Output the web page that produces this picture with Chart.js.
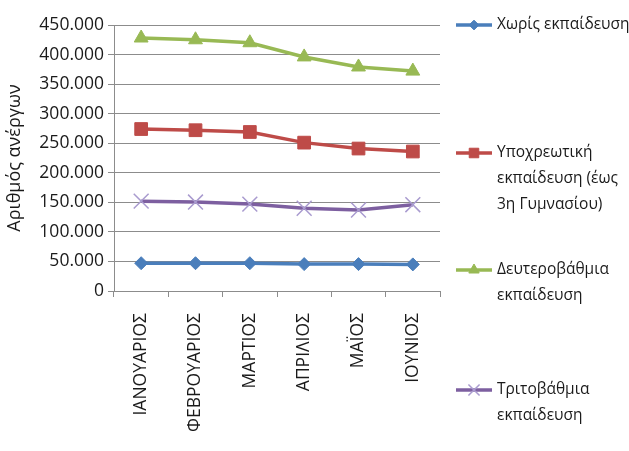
<!DOCTYPE html>
<html>
<head>
<meta charset="utf-8">
<script src="https://cdn.jsdelivr.net/npm/chart.js@4.4.0/dist/chart.umd.min.js"></script>
<style>
  html, body { margin: 0; padding: 0; background: #fff; }
  #wrap { width: 629px; height: 451px; }
</style>
</head>
<body>
<div id="wrap"><canvas id="chart"></canvas></div>
<script>
const months = ["ΙΑΝΟΥΑΡΙΟΣ", "ΦΕΒΡΟΥΑΡΙΟΣ", "ΜΑΡΤΙΟΣ", "ΑΠΡΙΛΙΟΣ", "ΜΑΪΟΣ", "ΙΟΥΝΙΟΣ"];

const noEducation = [47000, 47000, 47000, 45500, 45500, 45000];
const compulsory = [274000, 272000, 269000, 251000, 241000, 236000];
const secondary = [428000, 425000, 420000, 396000, 379000, 372000];
const tertiary = [152000, 150500, 147000, 140000, 137000, 146000];

const seriesNames = [
  ["Χωρίς εκπαίδευση"],
  ["Υποχρεωτική", "εκπαίδευση (έως", "3η Γυμνασίου)"],
  ["Δευτεροβάθμια", "εκπαίδευση"],
  ["Τριτοβάθμια", "εκπαίδευση"]
];

const yTicks = [0, 50000, 100000, 150000, 200000, 250000, 300000, 350000, 400000, 450000];

const fontFamily = "'Open Sans', 'Noto Sans', sans-serif";

function formatThousands(v) {
  return v === 0 ? "0" : String(v).replace(/\B(?=(\d{3})+(?!\d))/g, ".");
}

// legend drawn by hand, Excel spreads the entries down the right side
const sideLegend = {
  id: "sideLegend",
  afterDraw(chart) {
    const ctx = chart.ctx;
    const tops = [25, 153, 270, 390];
    ctx.save();
    ctx.font = "15.5px " + fontFamily;
    ctx.textBaseline = "middle";
    chart.data.datasets.forEach((ds, i) => {
      const y = tops[i];
      ctx.strokeStyle = ds.borderColor;
      ctx.lineWidth = ds.borderWidth;
      ctx.beginPath();
      ctx.moveTo(456, y);
      ctx.lineTo(492, y);
      ctx.stroke();
      ctx.fillStyle = ds.pointBackgroundColor;
      ctx.strokeStyle = ds.pointBorderColor;
      ctx.lineWidth = ds.pointBorderWidth;
      Chart.helpers.drawPoint(ctx, {
        pointStyle: ds.pointStyle,
        radius: ds.pointRadius * 0.75,
        borderWidth: ds.pointBorderWidth
      }, 474, y);
      ctx.fillStyle = "#1a1a1a";
      seriesNames[i].forEach((line, j) => {
        ctx.fillText(line, 497, y + j * 26);
      });
    });
    ctx.restore();
  }
};

new Chart(document.getElementById("chart"), {
  type: "line",
  data: {
    labels: months,
    datasets: [
      {
        data: noEducation,
        borderColor: "#4a7ebb",
        borderWidth: 3.5,
        pointStyle: "rectRot",
        pointRadius: 6.5,
        pointBackgroundColor: "#4a7ebb",
        pointBorderColor: "#4a7ebb",
        pointBorderWidth: 1,
        tension: 0
      },
      {
        data: compulsory,
        borderColor: "#be4b48",
        borderWidth: 3.5,
        pointStyle: "rect",
        pointRadius: 9,
        pointBackgroundColor: "#be4b48",
        pointBorderColor: "#be4b48",
        pointBorderWidth: 1,
        tension: 0
      },
      {
        data: secondary,
        borderColor: "#98b954",
        borderWidth: 3.5,
        pointStyle: "triangle",
        pointRadius: 8,
        pointBackgroundColor: "#98b954",
        pointBorderColor: "#98b954",
        pointBorderWidth: 1,
        tension: 0
      },
      {
        data: tertiary,
        borderColor: "#7d5fa0",
        borderWidth: 3.5,
        pointStyle: "crossRot",
        pointRadius: 10.5,
        pointBackgroundColor: "#a99bcf",
        pointBorderColor: "#a99bcf",
        pointBorderWidth: 1.5,
        tension: 0
      }
    ]
  },
  options: {
    responsive: true,
    maintainAspectRatio: false,
    animation: false,
    layout: { padding: { top: 25, right: 189, bottom: 0, left: 0 } },
    plugins: {
      legend: { display: false },
      tooltip: { enabled: false }
    },
    scales: {
      x: {
        offset: true,
        grid: {
          offset: true,
          drawOnChartArea: false,
          drawTicks: true,
          tickLength: 6,
          color: "#8c8c8c"
        },
        border: { color: "#8c8c8c", width: 1 },
        ticks: {
          maxRotation: 90,
          minRotation: 90,
          autoSkip: false,
          padding: 16,
          color: "#1a1a1a",
          font: { family: fontFamily, size: 17.5 }
        },
        afterFit(scale) { scale.height = 160; }
      },
      y: {
        min: 0,
        max: 450000,
        afterBuildTicks(scale) { scale.ticks = yTicks.map(v => ({ value: v })); },
        grid: { color: "#8c8c8c", tickLength: 6 },
        border: { color: "#8c8c8c", width: 1 },
        ticks: {
          padding: 4,
          color: "#1a1a1a",
          font: { family: fontFamily, size: 17.5 },
          callback: v => formatThousands(v)
        },
        title: {
          display: true,
          text: "Αριθμός ανέργων",
          color: "#1a1a1a",
          padding: { top: 4, bottom: 2 },
          font: { family: fontFamily, size: 18 }
        },
        afterFit(scale) { scale.width = 114; }
      }
    }
  },
  plugins: [sideLegend]
});
</script>
</body>
</html>
